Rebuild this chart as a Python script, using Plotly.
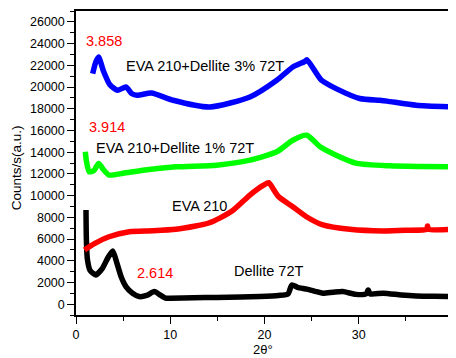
import plotly.graph_objects as go

# Dellite 72T (black)
x_dellite = [1.06, 1.1, 1.2, 1.5, 2.1, 2.8, 3.4, 3.9, 4.3, 4.8, 5.3, 6.0, 6.7, 7.5, 8.3, 9.0, 9.5, 10.0, 12.5, 14.9, 17.5, 19.5, 21.5, 22.5, 22.9, 23.5, 24.5, 25.5, 26.2, 27.3, 28.3, 29.7, 30.8, 31.0, 31.2, 32.6, 34.5, 36.1, 38.0, 40.0]
y_dellite = [8670, 6000, 4200, 3100, 2690, 3300, 4300, 4900, 3900, 2500, 1620, 1000, 700, 800, 1160, 800, 550, 550, 600, 620, 650, 700, 800, 950, 1770, 1550, 1380, 1150, 1010, 1100, 1160, 900, 950, 1310, 950, 1010, 850, 760, 720, 700]

# EVA 210 (red)
x_eva = [0.9, 2.0, 3.5, 5.65, 8.1, 10.6, 12.7, 14.0, 15.3, 16.7, 18.45, 19.9, 20.45, 21.0, 21.5, 23.0, 24.45, 26.2, 29.05, 32.6, 35.0, 37.2, 37.3, 37.4, 40.0]
y_eva = [4990, 5600, 6210, 6670, 6760, 6900, 7200, 7450, 7950, 8670, 10050, 10960, 11180, 10500, 9890, 8970, 8050, 7290, 6890, 6740, 6800, 6900, 7200, 6900, 6890]

# EVA 210 + Dellite 1% 72T (green)
x_one = [0.99, 1.1, 1.4, 1.9, 2.4, 2.9, 3.5, 5.0, 7.1, 10.6, 14.9, 18.45, 21.3, 23.0, 24.5, 25.9, 27.6, 29.8, 33.3, 36.5, 40.0]
y_one = [14030, 13200, 12190, 12300, 12960, 12400, 11890, 12050, 12340, 12650, 12800, 13260, 14030, 15100, 15560, 14490, 13720, 12960, 12740, 12680, 12650]

# EVA 210 + Dellite 3% 72T (blue)
x_three = [1.77, 2.1, 2.4, 2.9, 3.6, 4.4, 5.3, 5.9, 6.5, 8.0, 10.3, 14.2, 18.45, 21.3, 23.0, 24.3, 24.5, 26.05, 27.6, 30.1, 32.2, 33.0, 36.1, 40.0]
y_three = [21230, 22300, 22760, 21500, 20200, 19700, 20000, 19400, 19240, 19450, 18780, 18160, 19080, 20620, 21840, 22360, 22520, 20620, 19850, 18940, 18780, 18700, 18320, 18160]

# Peak labels (red) and series labels (black)
peak_text = ["3.858", "3.914", "2.614"]
peak_x = [3.0, 3.3, 8.4]
peak_y = [24200, 16300, 2880]
name_text = ["EVA 210+Dellite 3% 72T", "EVA 210+Dellite 1% 72T", "EVA 210", "Dellite 72T"]
name_x = [13.7, 10.55, 13.05, 20.4]
name_y = [21900, 14370, 9030, 3060]

x_ticks = [0, 10, 20, 30, 40]
y_ticks = list(range(0, 26001, 2000))

FONT = "Liberation Sans, Arial, sans-serif"

fig = go.Figure()
series = [
    (x_dellite, y_dellite, "#000000"),
    (x_eva, y_eva, "#ff0000"),
    (x_one, y_one, "#00ff00"),
    (x_three, y_three, "#0000ff"),
]
for xs, ys, c in series:
    fig.add_trace(go.Scatter(x=xs, y=ys, mode="lines",
                             line=dict(color=c, width=5.5, shape="spline", smoothing=0.6),
                             showlegend=False, hoverinfo="skip"))

for t, xx, yy in zip(peak_text, peak_x, peak_y):
    fig.add_annotation(x=xx, y=yy, text=t, showarrow=False,
                       font=dict(family=FONT, size=14.5, color="#ff0000"))
for t, xx, yy in zip(name_text, name_x, name_y):
    fig.add_annotation(x=xx, y=yy, text=t, showarrow=False,
                       font=dict(family=FONT, size=14.5, color="#000000"))

# page offset of 8px (body margin); plot area on page: x 76..453, y 11..315
fig.add_annotation(xref="paper", yref="paper", x=(16.7 - 76) / 377, y=(315 - 167.5) / 304,
                   xanchor="center", yanchor="middle",
                   text="Counts/s(a.u.)", textangle=-90, showarrow=False,
                   font=dict(family=FONT, size=13.5, color="#000000"))
fig.add_annotation(xref="x", yref="paper", x=19.8, y=(315 - 349.5) / 304, yanchor="middle",
                   text="2θ°", showarrow=False,
                   font=dict(family=FONT, size=13, color="#000000"))

fig.update_xaxes(range=[0, 40], tickvals=x_ticks, ticktext=[str(v) for v in x_ticks],
                 ticks="outside", ticklen=7, tickwidth=1, tickcolor="#000",
                 minor=dict(dtick=5, tick0=0, ticks="outside", ticklen=4, tickcolor="#000"),
                 showline=True, linecolor="#000", linewidth=1.5, mirror=True,
                 showgrid=False, zeroline=False, automargin=False,
                 tickfont=dict(family=FONT, size=12.5, color="#000"))
fig.update_yaxes(range=[-1000, 27000], tickvals=y_ticks, ticktext=[str(v) for v in y_ticks],
                 ticks="outside", ticklen=7, tickwidth=1, tickcolor="#000",
                 minor=dict(dtick=1000, tick0=0, ticks="outside", ticklen=4, tickcolor="#000"),
                 showline=True, linecolor="#000", linewidth=1.5, mirror=True,
                 showgrid=False, zeroline=False, automargin=False,
                 tickfont=dict(family=FONT, size=12.5, color="#000"))

fig.update_layout(width=448, height=350,
                  margin=dict(l=68, r=3, t=3, b=43, autoexpand=False),
                  paper_bgcolor="white", plot_bgcolor="white")

fig.write_html("out.html")
